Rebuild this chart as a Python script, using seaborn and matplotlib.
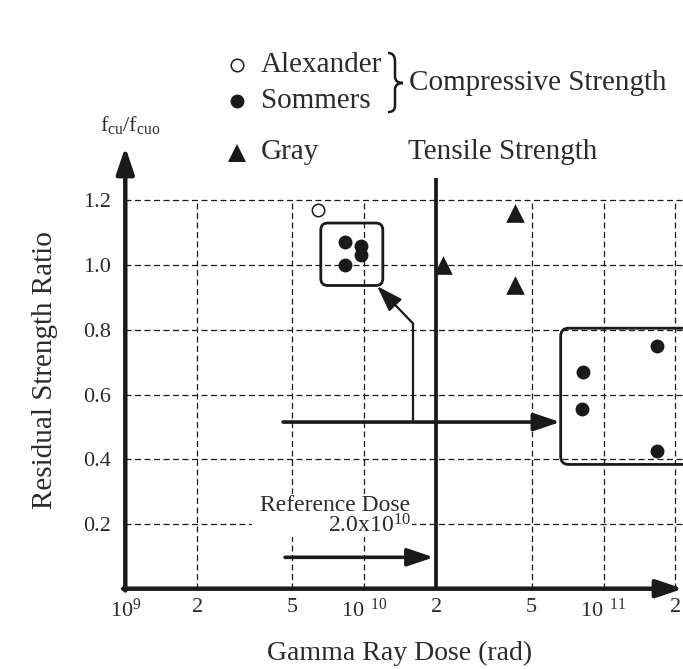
import matplotlib
matplotlib.use("Agg")
import matplotlib.pyplot as plt
import seaborn as sns
from matplotlib.patches import FancyBboxPatch, PathPatch, Rectangle
from matplotlib.path import Path
from matplotlib.lines import Line2D
from matplotlib.transforms import IdentityTransform

# ---- data -------------------------------------------------------------
alex_dose = [6.4e9]
alex_ratio = [1.17]

sommers_dose = [8.3e9, 8.3e9, 9.7e9, 9.7e9]
sommers_ratio = [1.07, 1.00, 1.06, 1.03]

gray_dose = [2.13e10, 4.25e10, 4.25e10]
gray_ratio = [1.00, 1.16, 0.94]

# enlarged view of the Sommers cluster
detail_dose = [8.2e10, 8.1e10, 1.67e11, 1.67e11]
detail_ratio = [0.67, 0.555, 0.75, 0.425]

reference_dose = 2.0e10

x_ticks = [1e9, 2e9, 5e9, 1e10, 2e10, 5e10, 1e11, 2e11]
x_tick_labels = [r"$\mathregular{10^{9}}$", "2", "5", r"$\mathregular{10^{\ \ 10}}$",
                 "2", "5", r"$\mathregular{10^{\ \ 11}}$", "2"]
y_ticks = [0.2, 0.4, 0.6, 0.8, 1.0, 1.2]
y_tick_labels = ["0.2", "0.4", "0.6", "0.8", "1.0", "1.2"]

# ---- style ------------------------------------------------------------
sns.set_theme(style="white")
plt.rcParams.update({
    "font.family": ["Liberation Serif", "DejaVu Serif"],
    "mathtext.fontset": "custom",
    "mathtext.rm": "Liberation Serif",
    "mathtext.it": "Liberation Serif:italic",
    "mathtext.bf": "Liberation Serif:bold",
})
INK = "#1a1a1a"
TXT = "#2b2b2b"
W, H = 683, 669

fig = plt.figure(figsize=(W / 100, H / 100), dpi=100)
fig.patch.set_facecolor("white")
ax = fig.add_axes([125.3 / W, 1 - 588.7 / H, (W - 125.3) / W, (588.7 - 147) / H])
ax.set_xscale("log")
ax.set_xlim(1e9, 2.15e11)
ax.set_ylim(0, 1.365)
for s in ax.spines.values():
    s.set_visible(False)
ax.set_facecolor("none")

# dashed grid, bounded by the 1.2 line
dash = (0, (4.8, 2.8))
for x in x_ticks[1:]:
    ax.plot([x, x], [0, 1.2], ls=dash, lw=0.9, color=INK, zorder=1)
for y in y_ticks:
    ax.plot([1e9, 2.15e11], [y, y], ls=dash, lw=0.9, color=INK, zorder=1)

# axes with arrow heads
axis_arrow = dict(arrowstyle="-|>,head_length=0.8,head_width=0.27", lw=3.2,
                  color=INK, shrinkA=0, shrinkB=0, mutation_scale=20)
ax.annotate("", xy=(0, 1), xytext=(0, -0.004), xycoords="axes fraction",
            arrowprops=axis_arrow, annotation_clip=False, zorder=5)
ax.annotate("", xy=(1, 0), xytext=(-0.004, 0), xycoords="axes fraction",
            arrowprops=axis_arrow, annotation_clip=False, zorder=5)

# reference dose line
ax.plot([reference_dose, reference_dose], [0, 1.268], lw=2.7, color=INK,
        solid_capstyle="butt", zorder=4)

# data points
sns.scatterplot(x=alex_dose, y=alex_ratio, marker="o", s=80, color="white",
                edgecolor=INK, linewidth=1.1, ax=ax, zorder=6)
sns.scatterplot(x=sommers_dose, y=sommers_ratio, marker="o", s=100, color=INK,
                edgecolor=INK, linewidth=0, ax=ax, zorder=6)
sns.scatterplot(x=gray_dose, y=gray_ratio, marker="^", s=180, color=INK,
                edgecolor=INK, linewidth=0, ax=ax, zorder=6)
sns.scatterplot(x=detail_dose, y=detail_ratio, marker="o", s=100, color=INK,
                edgecolor=INK, linewidth=0, ax=ax, zorder=6)

# rounded boxes around the cluster and its enlargement
fig.canvas.draw()


def pix_box(x0, x1, y0, y1, lw, r):
    (px0, py0) = ax.transData.transform((x0, y0))
    (px1, py1) = ax.transData.transform((x1, y1))
    box = FancyBboxPatch((px0, py0), px1 - px0, py1 - py0,
                         boxstyle=f"round,pad=0,rounding_size={r}",
                         transform=IdentityTransform(), fill=False,
                         lw=lw, ec=INK, zorder=7, clip_on=False)
    fig.add_artist(box)


pix_box(6.57e9, 1.194e10, 0.937, 1.130, 2.0, 7)
pix_box(6.62e10, 2.35e11, 0.384, 0.805, 2.0, 8)

# arrows linking the reference dose to the enlarged view
link = dict(arrowstyle="-|>,head_length=0.8,head_width=0.27", lw=2.6,
            color=INK, shrinkA=0, shrinkB=0, mutation_scale=20)
ax.annotate("", xy=(6.59e10, 0.515), xytext=(4.57e9, 0.515),
            arrowprops=link, zorder=5)
ax.plot([1.60e10, 1.60e10], [0.515, 0.819], lw=1.6, color=INK, zorder=5)
ax.annotate("", xy=(1.13e10, 0.935), xytext=(1.60e10, 0.819),
            arrowprops=dict(link, lw=1.6), zorder=5)
ax.annotate("", xy=(1.95e10, 0.097), xytext=(4.66e9, 0.097),
            arrowprops=link, zorder=5)

# white backing behind the reference-dose caption
ax.add_patch(Rectangle((3.4e9, 0.160), 1.58e10 - 3.4e9, 0.132,
                       facecolor="white", edgecolor="none", zorder=2))
ax.text(1.55e10, 0.258, "Reference Dose", ha="right", va="center",
        fontsize=17, color=TXT, zorder=3)
ax.text(1.57e10, 0.193, r"2.0x10$^{10}$", ha="right", va="center",
        fontsize=17, color=TXT, zorder=3)

# ticks
ax.set_xticks(x_ticks)
ax.set_xticklabels(x_tick_labels, fontsize=16, color=TXT)
ax.minorticks_off()
ax.set_yticks(y_ticks)
ax.set_yticklabels(y_tick_labels, fontsize=16, color=TXT)
ax.tick_params(axis="x", length=0, pad=7)
ax.tick_params(axis="y", length=0, pad=10)

ax.set_xlabel("Gamma Ray Dose (rad)", fontsize=20, color=TXT, va="center")
ax.xaxis.set_label_coords(0.4926, -0.1456)
ax.set_ylabel("Residual Strength Ratio", fontsize=21, color=TXT, va="center")
ax.yaxis.set_label_coords(-0.144, 0.495)

fig.text(130 / W, 1 - 125 / H, r"$\mathregular{f_{cu}/f_{cuo}}$", ha="center",
         va="center", fontsize=16, color=TXT)

# legend block
def fx(px):
    return px / W


def fy(py):
    return 1 - py / H


fig.add_artist(Line2D([fx(237)], [fy(65)], marker="o", ms=9, mfc="white",
                      mec=INK, mew=1.1, transform=fig.transFigure))
fig.add_artist(Line2D([fx(237)], [fy(101)], marker="o", ms=10, mfc=INK,
                      mec=INK, mew=0, transform=fig.transFigure))
fig.add_artist(Line2D([fx(237)], [fy(153)], marker="^", ms=13, mfc=INK,
                      mec=INK, mew=0, transform=fig.transFigure))
fig.text(fx(261), fy(65), "Alexander", ha="left", va="center", fontsize=21, color=TXT)
fig.text(fx(261), fy(101), "Sommers", ha="left", va="center", fontsize=21, color=TXT)
fig.text(fx(261), fy(152), "Gray", ha="left", va="center", fontsize=21, color=TXT)
fig.text(fx(409), fy(83), "Compressive Strength", ha="left", va="center",
         fontsize=21, color=TXT)
fig.text(fx(408), fy(152), "Tensile Strength", ha="left", va="center",
         fontsize=21, color=TXT)

# curly brace grouping the compressive-strength series
brace_pts = [(388, 53), (393, 53), (395, 56), (395, 62),
             (395, 76),
             (395, 81), (398, 83), (403, 83),
             (398, 83), (395, 85), (395, 90),
             (395, 105),
             (395, 110), (393, 112), (388, 112)]
codes = [Path.MOVETO, Path.CURVE4, Path.CURVE4, Path.CURVE4,
         Path.LINETO,
         Path.CURVE4, Path.CURVE4, Path.CURVE4,
         Path.CURVE4, Path.CURVE4, Path.CURVE4,
         Path.LINETO,
         Path.CURVE4, Path.CURVE4, Path.CURVE4]
brace = Path([(fx(x), fy(y)) for x, y in brace_pts], codes)
fig.add_artist(PathPatch(brace, fill=False, lw=1.8, ec=INK,
                         transform=fig.transFigure))

fig.savefig("out.png", dpi=100, facecolor="white")
